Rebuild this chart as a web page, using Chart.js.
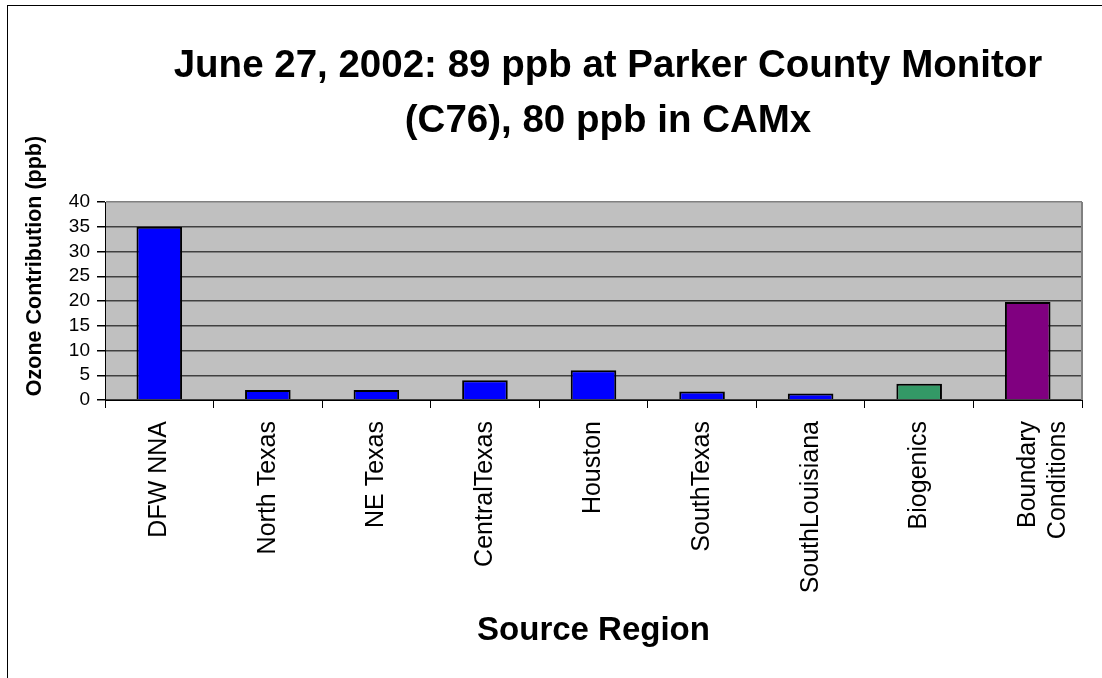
<!DOCTYPE html>
<html>
<head>
<meta charset="utf-8">
<script src="https://cdn.jsdelivr.net/npm/chart.js@4/dist/chart.umd.min.js"></script>
<style>
    html, body { margin: 0; padding: 0; background: #fff; }
    #wrap { position: relative; width: 1102px; height: 678px; overflow: hidden; }
    #frame { position: absolute; left: 7px; top: 5px; width: 1110px; height: 690px; border: 1px solid #000; }
    #chart { position: absolute; left: 0; top: 0; }
</style>
</head>
<body>
<div id="wrap">
    <div id="frame"></div>
    <canvas id="chart" width="1102" height="678"></canvas>
</div>
<script>
// Chart data
const titleLines = ['June 27, 2002: 89 ppb at Parker County Monitor', '(C76), 80 ppb in CAMx'];
const sourceRegions = [
    'DFW NNA',
    'North Texas',
    'NE Texas',
    'CentralTexas',
    'Houston',
    'SouthTexas',
    'SouthLouisiana',
    'Biogenics',
    ['Boundary', 'Conditions']
];
const ozoneContribution = [35, 2, 2, 4, 6, 1.7, 1.3, 3.3, 19.8];
const yTicks = [0, 5, 10, 15, 20, 25, 30, 35, 40];

// Bar colors (Excel palette)
const barColors = ['#0000ff', '#0000ff', '#0000ff', '#0000ff', '#0000ff', '#0000ff', '#0000ff', '#339966', '#800080'];

const fontFamily = '"Liberation Sans", Arial, sans-serif';

// Grey plot area, grey right edge, plus the titles that sit outside the axes
const plotDecor = {
    id: 'plotDecor',
    beforeDraw(chart) {
        const { ctx, chartArea: a } = chart;
        ctx.save();
        ctx.fillStyle = '#c0c0c0';
        ctx.fillRect(a.left, a.top, a.right - a.left, a.bottom - a.top);
        ctx.restore();
    },
    afterDraw(chart) {
        const { ctx, chartArea: a } = chart;
        ctx.save();
        ctx.strokeStyle = '#808080';
        ctx.lineWidth = 2;
        ctx.beginPath();
        ctx.moveTo(a.right, a.top);
        ctx.lineTo(a.right, a.bottom);
        ctx.stroke();

        // main title
        ctx.fillStyle = '#000';
        ctx.font = 'bold 38.5px ' + fontFamily;
        ctx.textAlign = 'center';
        ctx.textBaseline = 'alphabetic';
        ctx.fillText(titleLines[0], 608, 77);
        ctx.fillText(titleLines[1], 608, 132);

        // y axis title
        ctx.translate(35, 266);
        ctx.rotate(-Math.PI / 2);
        ctx.font = 'bold 21.5px ' + fontFamily;
        ctx.textBaseline = 'middle';
        ctx.fillText('Ozone Contribution (ppb)', 0, 0);
        ctx.restore();
    }
};

const data = {
    labels: sourceRegions,
    datasets: [{
        label: 'Ozone Contribution (ppb)',
        data: ozoneContribution,
        backgroundColor: barColors,
        borderColor: '#000',
        borderWidth: 2,
        barPercentage: 0.42,
        categoryPercentage: 1
    }]
};

const config = {
    type: 'bar',
    data: data,
    options: {
        responsive: false,
        animation: false,
        layout: {
            padding: { top: 202, right: 20, bottom: 0, left: 0 }
        },
        plugins: {
            legend: { display: false },
            title: { display: false },
            tooltip: { enabled: false }
        },
        scales: {
            x: {
                afterFit(scale) { scale.height = 278; },
                grid: {
                    offset: true,
                    drawOnChartArea: false,
                    tickLength: 8,
                    tickColor: '#000'
                },
                border: { color: '#000', width: 1 },
                ticks: {
                    minRotation: 90,
                    maxRotation: 90,
                    autoSkip: false,
                    padding: 13,
                    color: '#000',
                    font: { family: fontFamily, size: 25 }
                },
                title: {
                    display: true,
                    text: 'Source Region',
                    color: '#000',
                    padding: { top: 0, bottom: 27 },
                    font: { family: fontFamily, size: 33, weight: 'bold' }
                }
            },
            y: {
                min: 0,
                max: 40,
                afterFit(scale) { scale.width = 105; },
                afterBuildTicks(scale) { scale.ticks = yTicks.map(v => ({ value: v })); },
                grid: {
                    color: ctx => ctx.tick && ctx.tick.value === 40 ? '#808080' : '#404040',
                    lineWidth: 1.5,
                    tickLength: 8,
                    tickColor: '#000'
                },
                border: { color: '#000', width: 1 },
                ticks: {
                    autoSkip: false,
                    padding: 7,
                    color: '#000',
                    font: { family: fontFamily, size: 19 }
                }
            }
        }
    },
    plugins: [plotDecor]
};

const ozoneChart = new Chart(document.getElementById('chart'), config);
</script>
</body>
</html>
